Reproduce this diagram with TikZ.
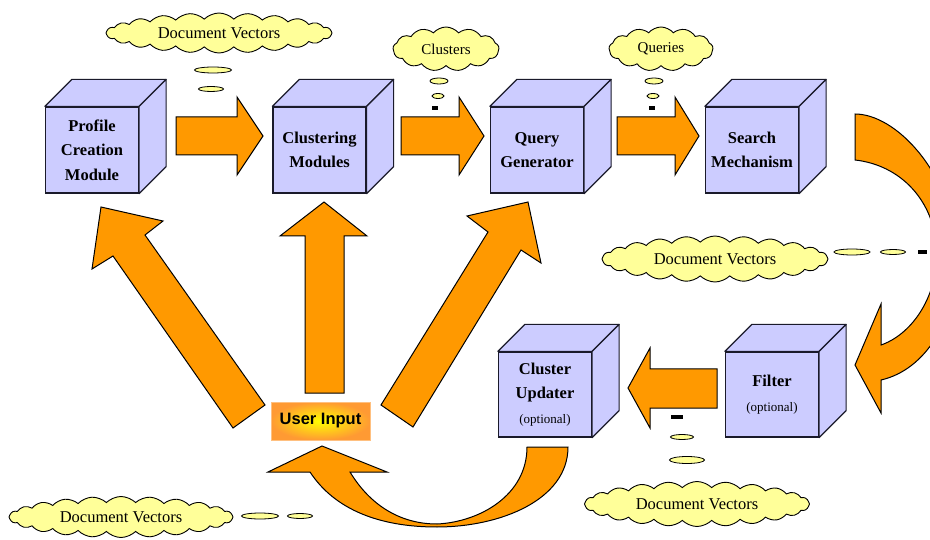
\documentclass[tikz,border=0pt]{standalone}
\usepackage{fontspec}
\setmainfont{Liberation Serif}
\newfontfamily\uifont{Liberation Sans}
\usetikzlibrary{shapes.symbols,shapes.geometric,calc}
\definecolor{cubefill}{HTML}{CCCCFF}
\definecolor{arroworange}{HTML}{FF9900}
\definecolor{cloudyellow}{HTML}{FFFF99}
\definecolor{edgecol}{HTML}{1A1A2A}
\definecolor{uiorange}{HTML}{FF9A33}
\definecolor{uiborder}{HTML}{FFC080}
\definecolor{uiyellow}{HTML}{FFFF00}
\tikzset{
  cubefront/.style={draw=edgecol, line width=1.2pt, fill=cubefill, minimum width=93pt,
    minimum height=86pt, inner sep=0pt, align=center,
    font=\fontsize{16.5}{24.5}\selectfont\bfseries},
  cubeface/.style={draw=edgecol, line width=1.2pt, fill=cubefill, line join=round},
  blockarrow/.style={draw=black, line width=1pt, fill=arroworange, line join=miter},
  thought/.style={cloud, cloud puffs=24, cloud puff arc=90, draw=black, line width=0.9pt,
    fill=cloudyellow, inner sep=0pt, font=\fontsize{16.5}{18}\selectfont},
  smallthought/.style={thought, cloud puffs=13, cloud puff arc=100, font=\fontsize{15}{18}\selectfont},
  bubble/.style={ellipse, draw=black, line width=0.8pt, fill=cloudyellow, inner sep=0pt},
  blackdash/.style={rectangle, fill=black, inner sep=0pt},
  userbox/.style={draw=uiborder, line width=0.8pt, inner color=uiyellow, outer color=uiorange,
    minimum width=99pt, minimum height=38pt, inner sep=0pt,
    font=\uifont\fontsize{16.5}{18}\selectfont\bfseries}
}
\newcommand\cubesides[1]{%
  \draw[cubeface] (#1.north west) -- ++(27,-27) -- ($(#1.north east)+(27,-27)$) -- (#1.north east) -- cycle;
  \draw[cubeface] (#1.north east) -- ($(#1.north east)+(27,-27)$) -- ($(#1.south east)+(27,-27)$) -- (#1.south east) -- cycle;
}
\begin{document}
\begin{tikzpicture}[x=1pt,y=-1pt]
\useasboundingbox (0,0) rectangle (930,540);
\clip (0,0) rectangle (930,540);
\fill[white] (0,0) rectangle (930,540);

% cubes
\node[cubefront] (pcm) at (92,150) {Profile\\Creation\\Module};
\cubesides{pcm}
\node[cubefront] (clm) at (319.5,150) {Clustering\\Modules};
\cubesides{clm}
\node[cubefront] (qg) at (537,150) {Query\\Generator};
\cubesides{qg}
\node[cubefront] (sm) at (752,150) {Search\\Mechanism};
\cubesides{sm}
\node[cubefront, minimum height=85pt] (cu) at (545,394.5) {Cluster\\Updater\\{\fontsize{13}{16}\selectfont\mdseries (optional)}};
\cubesides{cu}
\node[cubefront, minimum height=85pt] (fl) at (772,394.5) {Filter\\{\fontsize{13}{16}\selectfont\mdseries (optional)}};
\cubesides{fl}

% horizontal block arrows
\draw[blockarrow] (176,117) -- (237,117) -- (237,97) -- (263,136) -- (237,175) -- (237,155) -- (176,155) -- cycle;
\draw[blockarrow] (401,117) -- (459,117) -- (459,97) -- (484,136) -- (459,175) -- (459,155) -- (401,155) -- cycle;
\draw[blockarrow] (617,117) -- (675,117) -- (675,97) -- (699,136) -- (675,175) -- (675,155) -- (617,155) -- cycle;
\draw[blockarrow] (717,369) -- (650,369) -- (650,348) -- (628,388) -- (650,428) -- (650,408) -- (717,408) -- cycle;

% user input
\node[userbox] (ui) at (320.5,421) {User Input};

% arrows from user input
\draw[blockarrow] (305,393) -- (305,236) -- (280,236) -- (324,202) -- (367,236) -- (344,236) -- (344,393) -- cycle;
\draw[blockarrow] (233,428) -- (113,256) -- (92,269) -- (101,207) -- (163,221) -- (145,235) -- (265,405) -- cycle;
\draw[blockarrow] (381,405) -- (488,232) -- (467,216) -- (528,202) -- (541,263) -- (521,250) -- (413,427) -- cycle;

% curved arrow search -> filter
\draw[blockarrow] (855,114) .. controls (895,114) and (950,170) .. (958,250)
  .. controls (958,320) and (925,370) .. (881,380) -- (881,413) -- (855,365) -- (881,304) -- (881,345)
  .. controls (910,335) and (937,300) .. (937,252) .. controls (935,200) and (900,165) .. (855,160) -- cycle;

% curved arrow cluster updater -> user input
\draw[blockarrow] (268,472) -- (322,446) -- (387,472) -- (350,472)
  .. controls (370,505) and (400,524) .. (437,524) .. controls (480,522) and (527,495) .. (527,447)
  -- (568,447) .. controls (568,500) and (500,527) .. (437,527) .. controls (380,527) and (335,510) .. (310,472) -- cycle;

% clouds
\node[thought, aspect=5.65, minimum width=226pt, minimum height=40pt] (dv1) at (219,33) {Document Vectors};
\node[smallthought, aspect=2.4, minimum width=106pt, minimum height=44pt] (cl) at (446,49) {Clusters};
\node[smallthought, aspect=2.36, minimum width=104pt, minimum height=44pt] (qu) at (661,49) {Queries};
\node[thought, aspect=4.9, minimum width=226pt, minimum height=46pt] (dv2) at (715,259) {Document Vectors};
\node[thought, aspect=5.0, minimum width=225pt, minimum height=45pt] (dv3) at (697,504) {Document Vectors};
\node[thought, aspect=5.46, minimum width=224pt, minimum height=41pt] (dv4) at (121,517) {Document Vectors};

% thought bubbles
\node[bubble, minimum width=37pt, minimum height=6pt] (b11) at (213,70) {};
\node[bubble, minimum width=25pt, minimum height=5pt] (b12) at (211,89) {};
\node[bubble, minimum width=18pt, minimum height=6pt] (b21) at (439,81) {};
\node[bubble, minimum width=12pt, minimum height=5pt] (b22) at (438,96) {};
\node[blackdash, minimum width=6pt, minimum height=3.5pt] (b23) at (435,108) {};
\node[bubble, minimum width=18pt, minimum height=6pt] (b31) at (654,81) {};
\node[bubble, minimum width=12pt, minimum height=5pt] (b32) at (653,96) {};
\node[blackdash, minimum width=6pt, minimum height=3.5pt] (b33) at (652,108) {};
\node[bubble, minimum width=36pt, minimum height=6pt] (b41) at (852,252) {};
\node[bubble, minimum width=25pt, minimum height=5pt] (b42) at (893,252) {};
\node[blackdash, minimum width=9pt, minimum height=3.5pt] (b43) at (922,252) {};
\node[blackdash, minimum width=12pt, minimum height=3.5pt] (b51) at (677,417) {};
\node[bubble, minimum width=23pt, minimum height=5pt] (b52) at (682,437) {};
\node[bubble, minimum width=35pt, minimum height=7pt] (b53) at (687,460) {};
\node[bubble, minimum width=37pt, minimum height=6pt] (b61) at (260,516) {};
\node[bubble, minimum width=25pt, minimum height=5pt] (b62) at (300,516) {};
\end{tikzpicture}
\end{document}
